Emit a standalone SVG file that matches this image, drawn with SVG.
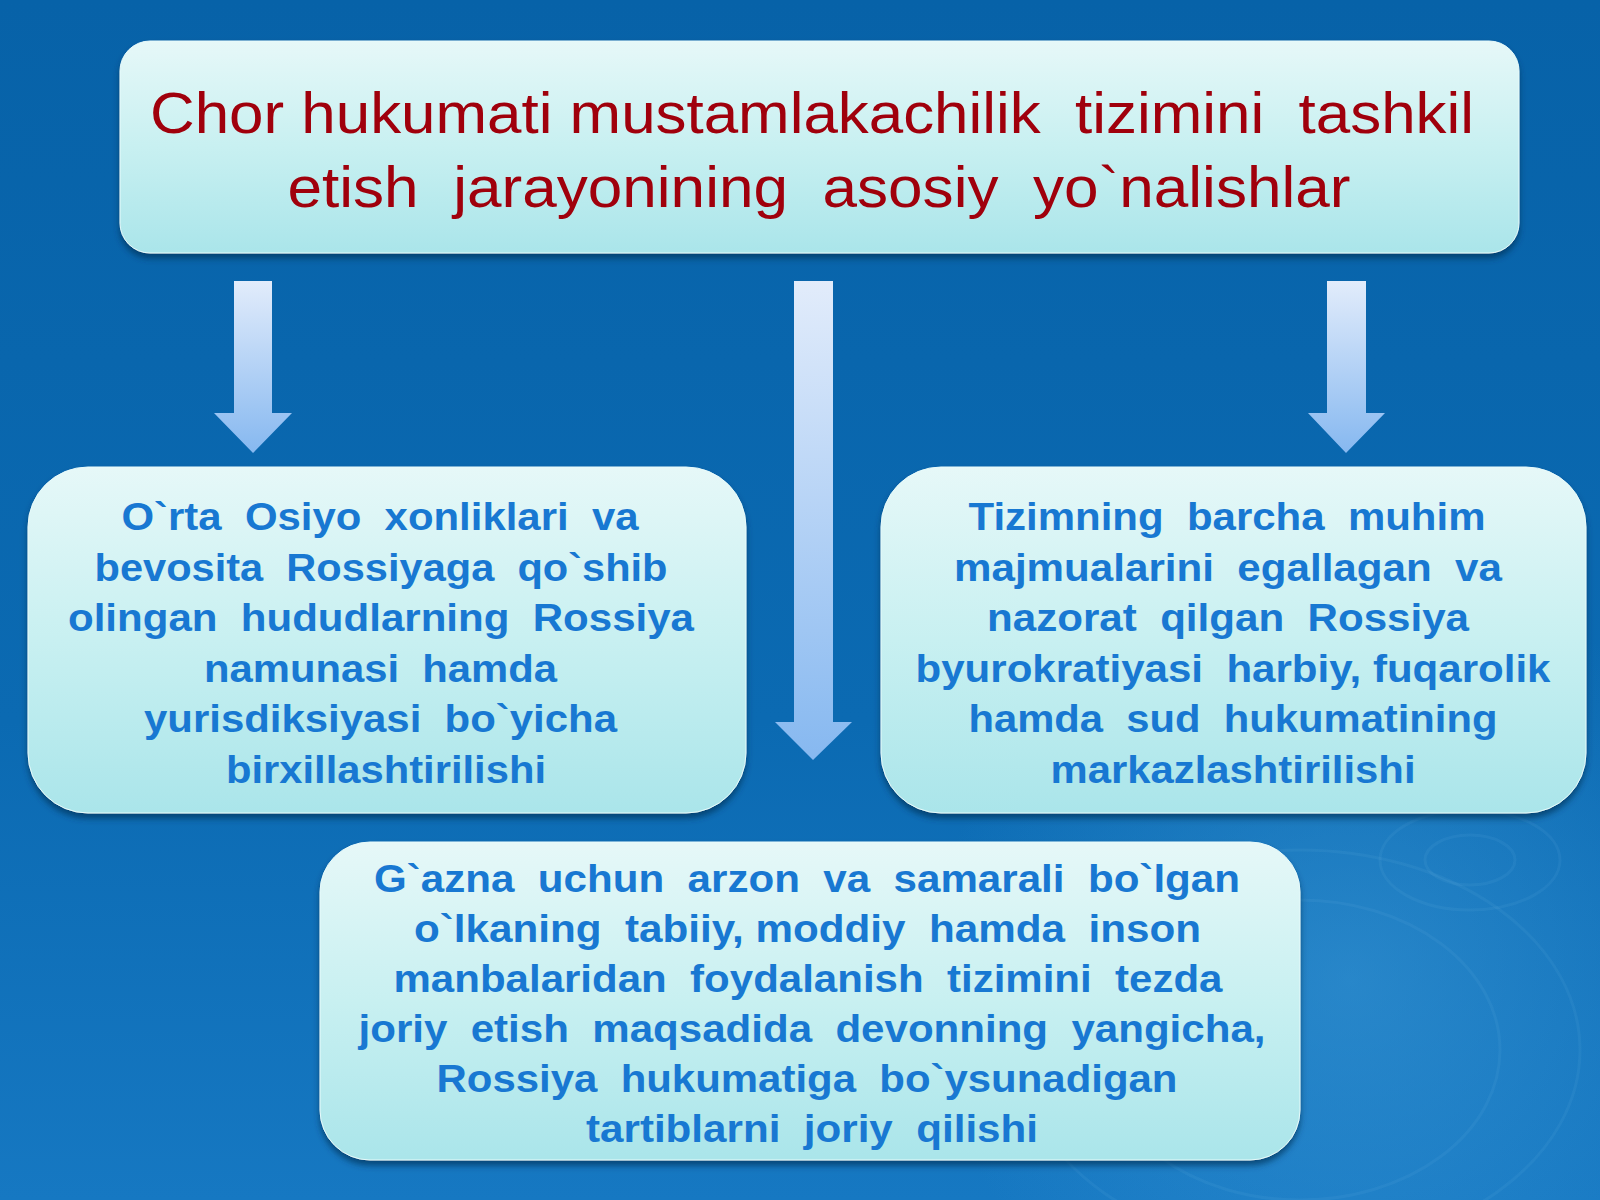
<svg xmlns="http://www.w3.org/2000/svg" width="1600" height="1200" viewBox="0 0 1600 1200">
<defs>
<linearGradient id="bg" x1="0" y1="0" x2="0" y2="1">
<stop offset="0" stop-color="#0762a8"/>
<stop offset="0.6" stop-color="#0b6ab2"/>
<stop offset="1" stop-color="#1678c2"/>
</linearGradient>
<radialGradient id="glow" cx="1350" cy="980" r="420" gradientUnits="userSpaceOnUse">
<stop offset="0" stop-color="#4aa6e0" stop-opacity="0.4"/>
<stop offset="1" stop-color="#4aa6e0" stop-opacity="0"/>
</radialGradient>
<linearGradient id="boxg" x1="0" y1="0" x2="0" y2="1">
<stop offset="0" stop-color="#e6f8f8"/>
<stop offset="0.5" stop-color="#c8f0f1"/>
<stop offset="1" stop-color="#aae5ea"/>
</linearGradient>
<linearGradient id="arrg" x1="0" y1="0" x2="0" y2="1">
<stop offset="0" stop-color="#e2ecfb"/>
<stop offset="1" stop-color="#86b8f0"/>
</linearGradient>
<filter id="sh" x="-5%" y="-5%" width="110%" height="115%">
<feDropShadow dx="0" dy="5" stdDeviation="3" flood-color="#03325a" flood-opacity="0.7"/>
</filter>
</defs>
<style>
.box{fill:url(#boxg);stroke:#e8fbfb;stroke-width:1;filter:url(#sh)}
.arr{fill:url(#arrg)}
.t{font-family:"Liberation Sans",Arial,sans-serif;font-weight:bold;font-size:38px;fill:#1878d2;text-anchor:middle;white-space:pre}
.h{font-family:"Liberation Sans",Arial,sans-serif;font-size:58px;fill:#a0000c;text-anchor:middle;white-space:pre}
.rip{fill:none;stroke:#8cc8f0;stroke-opacity:0.08;stroke-width:3}
</style>
<rect width="1600" height="1200" fill="url(#bg)"/>
<rect width="1600" height="1200" fill="url(#glow)"/>
<g id="ripples">
<ellipse class="rip" cx="1470" cy="860" rx="45" ry="25"/>
<ellipse class="rip" cx="1470" cy="860" rx="90" ry="50"/>
<ellipse class="rip" cx="1300" cy="1050" rx="200" ry="150"/>
<ellipse class="rip" cx="1300" cy="1050" rx="280" ry="200"/>
</g>
<g id="connectors">
<path class="arr" d="M234,281 H272 V413 H292 L253,453 L214,413 H234 Z"/>
<path class="arr" d="M794,281 H833 V722 H852 L813,760 L775,722 H794 Z"/>
<path class="arr" d="M1327,281 H1366 V413 H1385 L1346,453 L1308,413 H1327 Z"/>
</g>
<g id="title">
<rect class="box" x="120" y="41" width="1399" height="212" rx="30"/>
<text class="h" x="812" y="133" textLength="1324" lengthAdjust="spacingAndGlyphs">Chor hukumati mustamlakachilik  tizimini  tashkil</text>
<text class="h" x="819" y="207" textLength="1063" lengthAdjust="spacingAndGlyphs">etish  jarayonining  asosiy  yo`nalishlar</text>
</g>
<g id="left">
<rect class="box" x="28" y="467" width="718" height="346" rx="60"/>
<text class="t" x="380" y="530" textLength="517" lengthAdjust="spacingAndGlyphs">O`rta  Osiyo  xonliklari  va</text>
<text class="t" x="381" y="580.6" textLength="573" lengthAdjust="spacingAndGlyphs">bevosita  Rossiyaga  qo`shib</text>
<text class="t" x="381" y="631.2" textLength="626" lengthAdjust="spacingAndGlyphs">olingan  hududlarning  Rossiya</text>
<text class="t" x="380.5" y="681.8" textLength="353" lengthAdjust="spacingAndGlyphs">namunasi  hamda</text>
<text class="t" x="380.5" y="732.4" textLength="473" lengthAdjust="spacingAndGlyphs">yurisdiksiyasi  bo`yicha</text>
<text class="t" x="386" y="783" textLength="320" lengthAdjust="spacingAndGlyphs">birxillashtirilishi</text>
</g>
<g id="right">
<rect class="box" x="881" y="467" width="705" height="346" rx="60"/>
<text class="t" x="1227" y="530" textLength="517" lengthAdjust="spacingAndGlyphs">Tizimning  barcha  muhim</text>
<text class="t" x="1228" y="580.6" textLength="548" lengthAdjust="spacingAndGlyphs">majmualarini  egallagan  va</text>
<text class="t" x="1228" y="631.2" textLength="482" lengthAdjust="spacingAndGlyphs">nazorat  qilgan  Rossiya</text>
<text class="t" x="1233" y="681.8" textLength="635" lengthAdjust="spacingAndGlyphs">byurokratiyasi  harbiy, fuqarolik</text>
<text class="t" x="1233" y="732.4" textLength="529" lengthAdjust="spacingAndGlyphs">hamda  sud  hukumatining</text>
<text class="t" x="1233" y="783" textLength="365" lengthAdjust="spacingAndGlyphs">markazlashtirilishi</text>
</g>
<g id="bottom">
<rect class="box" x="320" y="842" width="980" height="318" rx="50"/>
<text class="t" x="807" y="892" textLength="866" lengthAdjust="spacingAndGlyphs">G`azna  uchun  arzon  va  samarali  bo`lgan</text>
<text class="t" x="807.5" y="942" textLength="787" lengthAdjust="spacingAndGlyphs">o`lkaning  tabiiy, moddiy  hamda  inson</text>
<text class="t" x="808" y="992" textLength="829" lengthAdjust="spacingAndGlyphs">manbalaridan  foydalanish  tizimini  tezda</text>
<text class="t" x="812" y="1042" textLength="907" lengthAdjust="spacingAndGlyphs">joriy  etish  maqsadida  devonning  yangicha,</text>
<text class="t" x="807" y="1092" textLength="741" lengthAdjust="spacingAndGlyphs">Rossiya  hukumatiga  bo`ysunadigan</text>
<text class="t" x="812" y="1142" textLength="452" lengthAdjust="spacingAndGlyphs">tartiblarni  joriy  qilishi</text>
</g>
</svg>
